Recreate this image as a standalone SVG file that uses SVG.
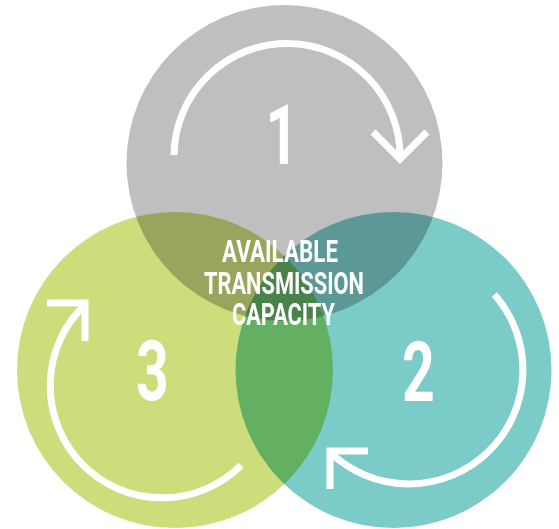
<svg xmlns="http://www.w3.org/2000/svg" width="559" height="529" viewBox="0 0 559 529">
  <style>
    .disc { mix-blend-mode: multiply; }
    .num { font-family: Roboto, "Liberation Sans", sans-serif; font-weight: 700; font-size: 84px; fill: #ffffff; text-anchor: middle; }
    .label { font-family: Roboto, "Liberation Sans", sans-serif; font-weight: 700; font-size: 32px; fill: #ffffff; text-anchor: middle; }
    .cycle { fill: none; stroke: #ffffff; stroke-width: 7; stroke-linecap: butt; stroke-linejoin: miter; }
  </style>
  <rect width="559" height="529" fill="#ffffff"/>

  <!-- three overlapping stages; overlaps darken by multiplying -->
  <g id="stage-1">
    <circle class="disc" cx="284.5" cy="163" r="158" fill="#bfbfbf"/>
    <text class="num" transform="translate(282,164) scale(0.68,1)">1</text>
  </g>
  <g id="stage-3">
    <circle class="disc" cx="175" cy="370" r="158" fill="#cddd7c"/>
    <text class="num" transform="translate(152.5,400) scale(0.68,1)">3</text>
  </g>
  <g id="stage-2">
    <circle class="disc" cx="393.5" cy="370" r="158" fill="#7bcbc9"/>
    <text class="num" transform="translate(418.5,401) scale(0.68,1)">2</text>
  </g>

  <!-- clockwise cycle arrows inside each stage -->
  <g id="connectors">
    <path class="cycle" d="M174,155 A113,113 0 1 1 400,158"/>
    <polyline class="cycle" points="373,132 400,159 427,132"/>

    <path class="cycle" d="M494.4,294.5 A114,114 0 0 1 329.8,452"/>
    <polyline class="cycle" points="368,451 330,451 330,489"/>

    <path class="cycle" d="M241.2,465.2 A112,112 0 1 1 85.6,304.1"/>
    <polyline class="cycle" points="47,303 85,303 85,341"/>
  </g>

  <g id="centre-label">
    <text class="label" x="280" y="262" textLength="116" lengthAdjust="spacingAndGlyphs">AVAILABLE</text>
    <text class="label" x="284" y="293.5" textLength="160" lengthAdjust="spacingAndGlyphs">TRANSMISSION</text>
    <text class="label" x="283.5" y="325" textLength="103" lengthAdjust="spacingAndGlyphs">CAPACITY</text>
  </g>
</svg>
